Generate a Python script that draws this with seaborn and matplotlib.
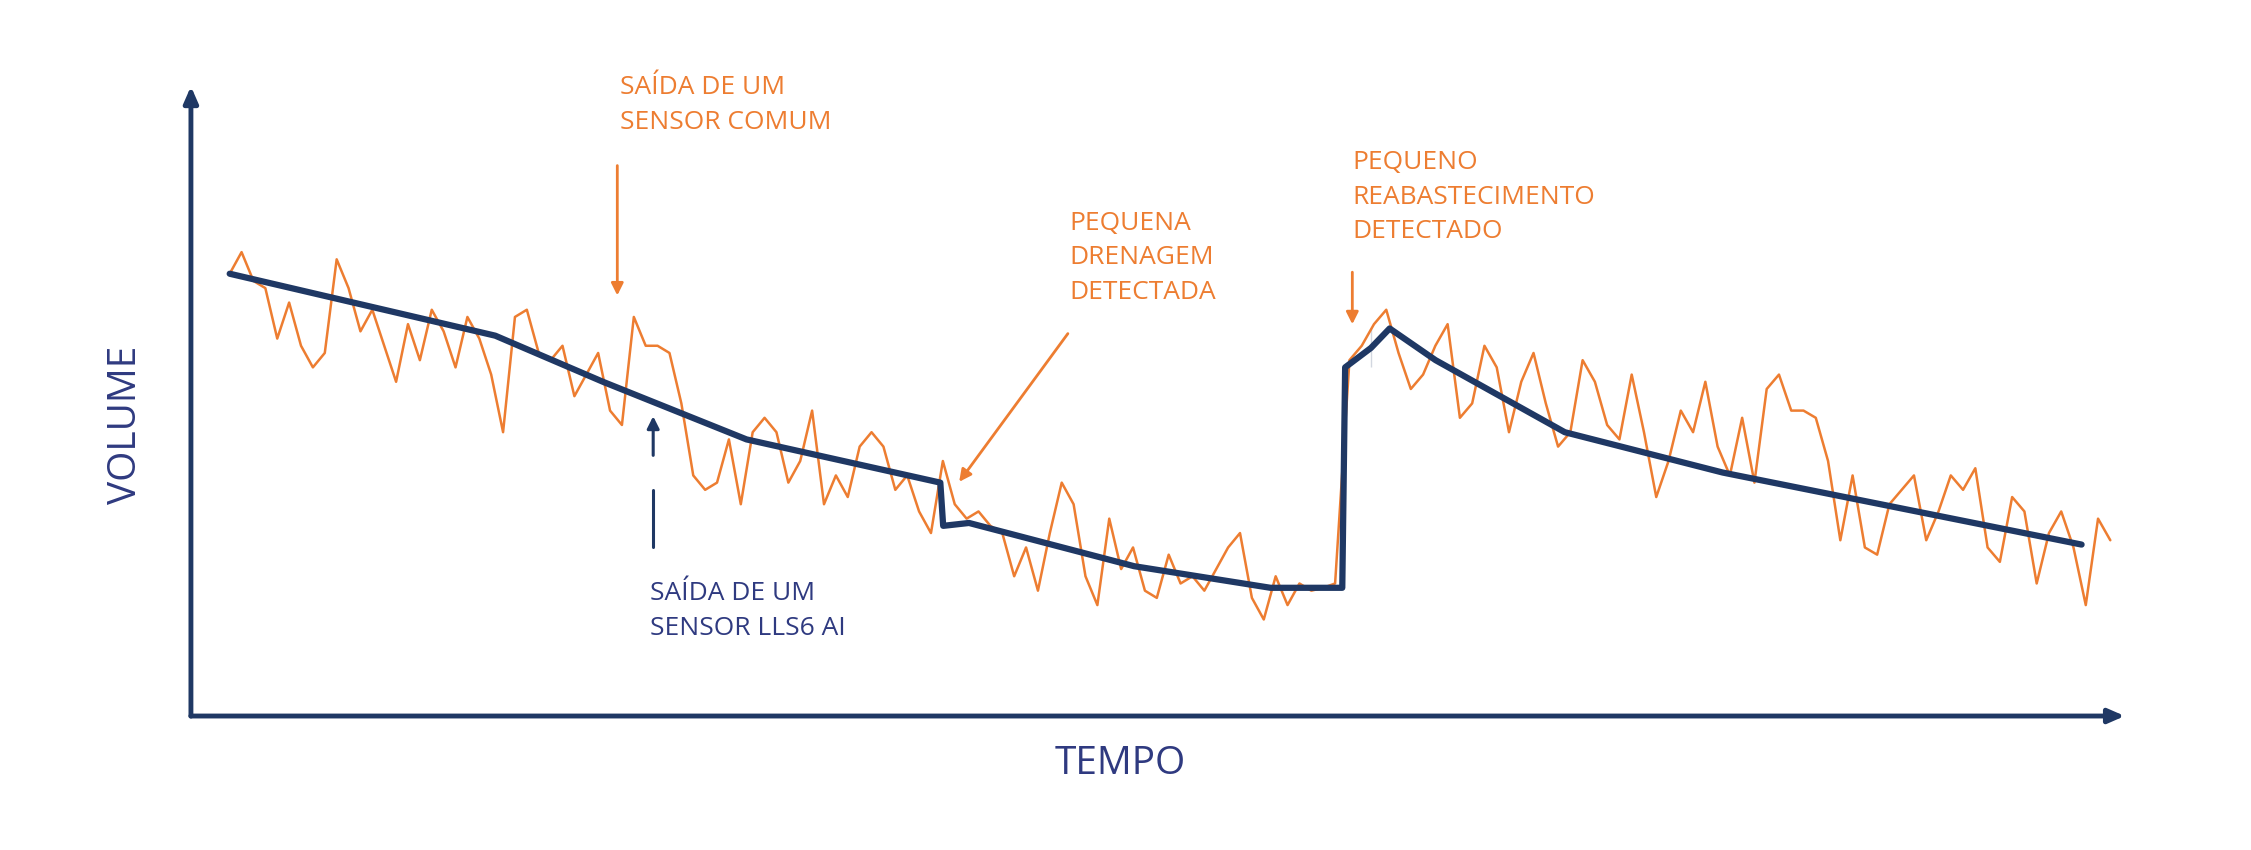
import numpy as np
import pandas as pd
import seaborn as sns
import matplotlib.pyplot as plt

# Orange raw sensor values (screen-like units, larger = lower on chart)
raw_pre = [190,175,195,200,235,210,240,255,245,180,200,
           230,215,240,265,225,250,215,230,255,220,235,260,
           300,220,215,245,250,240,275,260,245,285,295,
           220,240,240,245,280,330,340,335,305,350,300,
           290,300,335,320,285,350,330,345,310,300,
           310,340,330,355,370,320,
           350,360,355,365,370,400,380,410,370,335,
           350,400,420,360,395,380,410,415,385,405,400,
           410,395,380,370,415,430,400,420,405,410,408,405]
raw_post = [250,240,225,215,245,270,260,240,225,290,280,240,255,
            300,265,245,280,310,300,250,265,295,305,260,300,
            345,320,285,300,265,310,330,290,335,270,260,285,
            285,290,320,375,330,380,385,350,340,330,375,355,
            330,340,325,380,390,345,355,405,370,355,380,420,360,375]
t_pre = np.linspace(160, 930, len(raw_pre))
t_post = np.linspace(940, 1470, len(raw_post))

# LLS6 AI filtered output
lls_t = [160,345,420,520,655,657,675,790,885,935,937,955,955,968,1000,1090,1200,1450]
lls_v = [190,233,265,305,335,365,363,393,408,408,255,255,228,228,250,300,328,378]

ORANGE = "#ED7D31"
NAVY = "#1F3864"
LABEL = "#2F3A80"

sns.set_theme(style="white")
plt.rcParams['font.family'] = ['Open Sans', 'DejaVu Sans']

fig = plt.figure(figsize=(22.51, 8.5), dpi=100)
ax = fig.add_axes([0, 0, 1, 1])
raw = pd.DataFrame({"t": np.concatenate([t_pre, t_post]), "v": raw_pre + raw_post})
sns.lineplot(data=raw, x="t", y="v", ax=ax, color=ORANGE, lw=1.8, sort=False)
lls = pd.DataFrame({"t": lls_t, "v": lls_v})
sns.lineplot(data=lls, x="t", y="v", ax=ax, color=NAVY, lw=4.5, sort=False)

ax.set_xlim(0, 1568)
ax.set_ylim(590, 0)
ax.axis("off")

ax.annotate("", xy=(1482, 497), xytext=(131, 497),
            arrowprops=dict(arrowstyle="-|>,head_length=0.8,head_width=0.35", color=NAVY, lw=3.5))
ax.annotate("", xy=(133, 58), xytext=(133, 499),
            arrowprops=dict(arrowstyle="-|>,head_length=0.8,head_width=0.35", color=NAVY, lw=3.5))
ax.text(780, 530, "TEMPO", color=LABEL, fontsize=28, ha="center", va="center")
ax.text(88, 295, "VOLUME", color=LABEL, fontsize=28, ha="center", va="center", rotation=90)

fs = 19
ax.text(432, 73, "SAÍDA DE UM\nSENSOR COMUM", color=ORANGE, fontsize=fs, va="center", linespacing=1.5)
ax.annotate("", xy=(430, 207), xytext=(430, 113),
            arrowprops=dict(arrowstyle="-|>,head_length=0.6,head_width=0.3", color=ORANGE, lw=2))
ax.text(745, 179, "PEQUENA\nDRENAGEM\nDETECTADA", color=ORANGE, fontsize=fs, va="center", linespacing=1.5)
ax.annotate("", xy=(667, 336), xytext=(745, 230),
            arrowprops=dict(arrowstyle="-|>,head_length=0.6,head_width=0.3", color=ORANGE, lw=2))
ax.text(942, 137, "PEQUENO\nREABASTECIMENTO\nDETECTADO", color=ORANGE, fontsize=fs, va="center", linespacing=1.5)
ax.annotate("", xy=(942, 227), xytext=(942, 187),
            arrowprops=dict(arrowstyle="-|>,head_length=0.6,head_width=0.3", color=ORANGE, lw=2))
ax.text(453, 424, "SAÍDA DE UM\nSENSOR LLS6 AI", color=LABEL, fontsize=fs, va="center", linespacing=1.5)
ax.plot([455, 455], [380, 340], color=NAVY, lw=2.2)
ax.annotate("", xy=(455, 287), xytext=(455, 318),
            arrowprops=dict(arrowstyle="-|>,head_length=0.6,head_width=0.3", color=NAVY, lw=2.2))

fig.savefig("out.png", dpi=100, facecolor="white")
